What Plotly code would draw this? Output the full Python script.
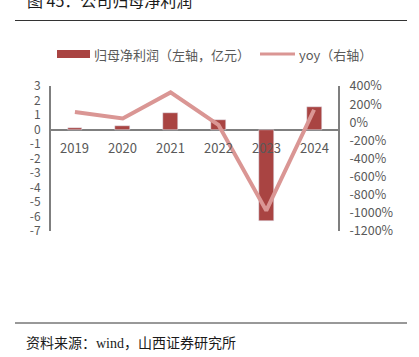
import plotly.graph_objects as go

years = ["2019", "2020", "2021", "2022", "2023", "2024"]
net_profit = [0.13, 0.22, 1.13, 0.66, -6.3, 1.55]   # 亿元
yoy = [113, 42, 329, -28, -975, 138]                  # %

left_tickvals = [3, 2, 1, 0, -1, -2, -3, -4, -5, -6, -7]
left_ticktext = ["3", "2", "1", "0", "-1", "-2", "-3", "-4", "-5", "-6", "-7"]
right_tickvals = [400, 200, 0, -200, -400, -600, -800, -1000, -1200]
right_ticktext = ["400%", "200%", "0%", "-200%", "-400%", "-600%", "-800%", "-1000%", "-1200%"]

bar_name = "归母净利润（左轴，亿元）"
line_name = "yoy（右轴）"
title_text = "图 45：公司归母净利润"
source_text = "资料来源：wind，山西证券研究所"

W, H = 419, 357
L, R, T, B = 51, 338, 86, 231
PW, PH = R - L, B - T

def px(x):
    return (x - L) / PW

def py(y):
    return (B - y) / PH

BAR_C = "#A94442"
LINE_C = "#DA9694"
TXT_C = "#595959"
AX_C = "#7f7f7f"
FONT = "Noto Sans CJK SC, Noto Sans, sans-serif"

fig = go.Figure()
fig.add_trace(go.Bar(x=years, y=net_profit, name=bar_name, marker_color=BAR_C,
                     width=0.31, yaxis="y", showlegend=False))
fig.add_trace(go.Scatter(x=years, y=yoy, name=line_name, mode="lines",
                         line=dict(color=LINE_C, width=4), yaxis="y2",
                         showlegend=False))

fig.update_layout(
    width=W, height=H,
    margin=dict(l=L, r=W - R, t=T, b=H - B, pad=0),
    paper_bgcolor="white", plot_bgcolor="white",
    font=dict(family=FONT, size=13, color=TXT_C),
    bargap=0,
    xaxis=dict(type="category", showticklabels=False, ticks="", showgrid=False,
               zeroline=False, showline=False, range=[-0.5, 5.5], fixedrange=True),
    yaxis=dict(range=[-7, 3], tickvals=left_tickvals, ticktext=left_ticktext,
               showgrid=False, zeroline=True,
               zerolinecolor=AX_C, zerolinewidth=1.5, showline=True,
               linecolor=AX_C, linewidth=2, ticks="", ticklabelstandoff=6,
               tickfont=dict(size=12, color=TXT_C)),
    yaxis2=dict(range=[-1200, 400], tickvals=right_tickvals, ticktext=right_ticktext,
                overlaying="y", side="right",
                showgrid=False, zeroline=False, showline=True, linecolor=AX_C,
                linewidth=2, ticks="", ticklabelstandoff=7,
                tickfont=dict(size=12.5, color=TXT_C)),
    showlegend=False,
)

annotations = []
for i, yr in enumerate(years):
    annotations.append(dict(x=i, y=0, xref="x", yref="y", text=yr, showarrow=False,
                            yanchor="top", yshift=-6, font=dict(size=13, color=TXT_C)))
annotations.append(dict(x=px(25), y=py(0), xref="paper", yref="paper", text=title_text,
                        showarrow=False, xanchor="left", yanchor="middle",
                        font=dict(size=16, color="#1a1a1a", family=FONT)))
annotations.append(dict(x=px(24), y=py(343), xref="paper", yref="paper", text=source_text,
                        showarrow=False, xanchor="left", yanchor="middle",
                        font=dict(size=14, color="#1a1a1a",
                                  family="Liberation Serif, Noto Sans CJK SC, serif")))
annotations.append(dict(x=px(92), y=py(54), xref="paper", yref="paper", text=bar_name,
                        showarrow=False, xanchor="left", yanchor="middle",
                        font=dict(size=13, color=TXT_C)))
annotations.append(dict(x=px(297), y=py(54), xref="paper", yref="paper", text=line_name,
                        showarrow=False, xanchor="left", yanchor="middle",
                        font=dict(size=13, color=TXT_C)))

shapes = [
    dict(type="line", xref="paper", yref="paper", x0=px(15), x1=px(407),
         y0=py(20.5), y1=py(20.5), line=dict(color="#333333", width=1)),
    dict(type="line", xref="paper", yref="paper", x0=px(15), x1=px(407),
         y0=py(323), y1=py(323), line=dict(color="#333333", width=1)),
    dict(type="rect", xref="paper", yref="paper", x0=px(57), x1=px(90),
         y0=py(58), y1=py(50), fillcolor=BAR_C, line=dict(width=0)),
    dict(type="line", xref="paper", yref="paper", x0=px(260), x1=px(295),
         y0=py(54), y1=py(54), line=dict(color=LINE_C, width=3)),
]

fig.update_layout(annotations=annotations, shapes=shapes)
fig.write_html("out.html", config={"displayModeBar": False},
               post_script="document.body.style.margin='0';document.body.style.overflow='hidden';")
